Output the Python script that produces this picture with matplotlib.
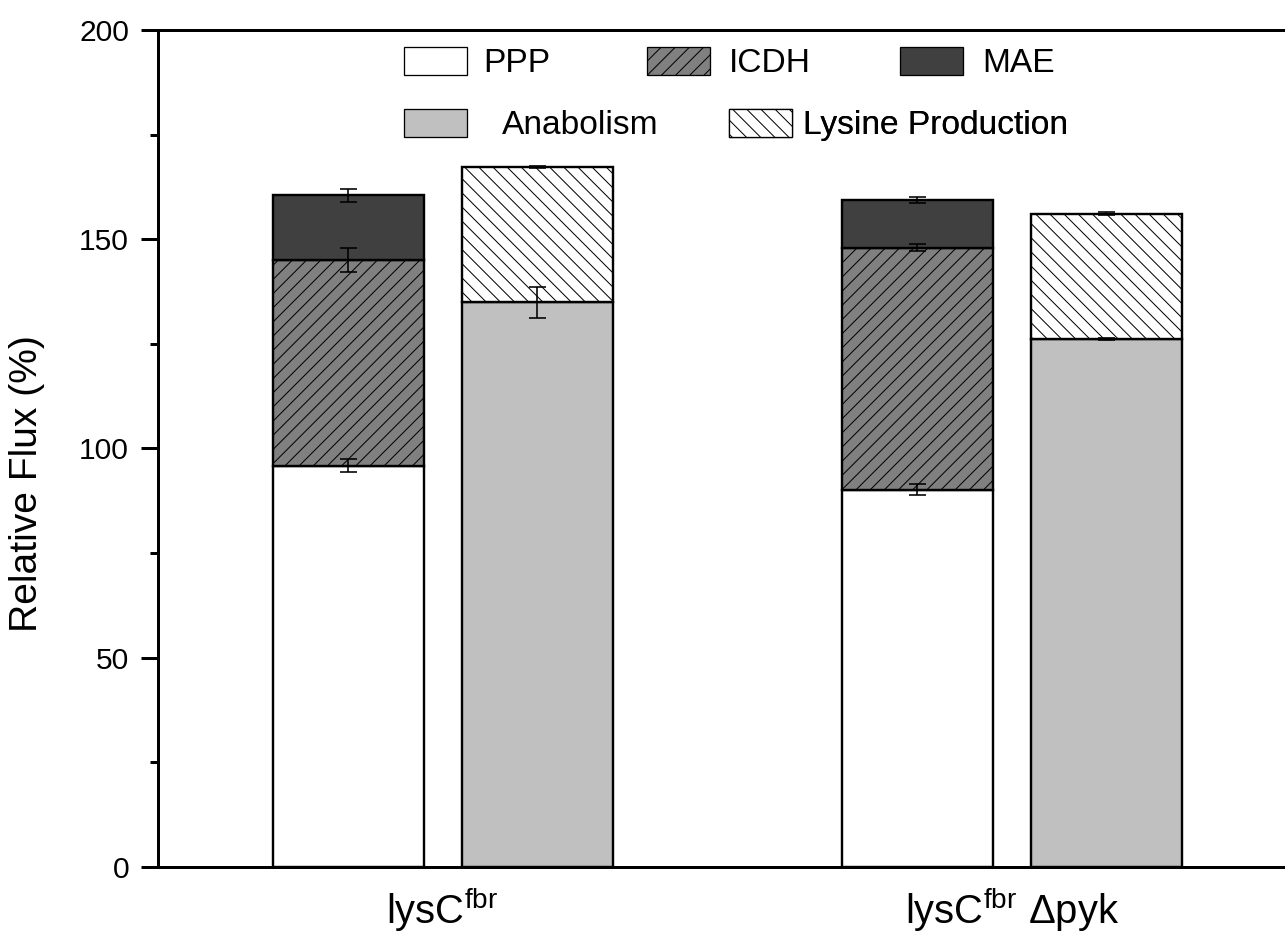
import matplotlib
matplotlib.use('Agg')
import matplotlib.pyplot as plt
import numpy as np
from matplotlib.patches import Patch
from matplotlib.ticker import MultipleLocator

# ---------------- data ----------------
categories = ['lysC$^{fbr}$', 'lysC$^{fbr}$ Δpyk']
ppp = np.array([95.9, 90.2])
ppp_err = np.array([1.6, 1.4])
icdh = np.array([49.1, 57.8])
icdh_err = np.array([2.9, 0.8])
mae = np.array([15.5, 11.4])
mae_err = np.array([1.5, 0.7])
anabolism = np.array([134.9, 126.2])
anabolism_err = np.array([3.7, 0.3])
lysine = np.array([32.4, 29.9])
lysine_err = np.array([0.3, 0.3])

# ---------------- style ----------------
DPI = 85
W, H = 1285, 940


def pt(px):
    return px * 72.0 / DPI


plt.rcParams['font.family'] = ['Liberation Sans', 'DejaVu Sans']
plt.rcParams['mathtext.fontset'] = 'custom'
plt.rcParams['mathtext.rm'] = 'Liberation Sans'
plt.rcParams['mathtext.it'] = 'Liberation Sans'
plt.rcParams['mathtext.default'] = 'regular'
plt.rcParams['hatch.linewidth'] = pt(1.0)
plt.rcParams['hatch.color'] = 'black'

fig = plt.figure(figsize=(W / DPI, H / DPI), dpi=DPI)
ax = fig.add_axes([158 / W, 1 - 867 / H, (1296.5 - 158) / W, (867 - 30) / H])

groups = np.arange(len(categories))
offset = 94.5 / 569
width = 151 / 569
xl = groups - offset
xr = groups + offset

edge_lw = pt(2.4)
ax.bar(xl, ppp, width, color='white', edgecolor='black', linewidth=edge_lw, zorder=2)
ax.bar(xl, icdh, width, bottom=ppp, color='#808080', edgecolor='black',
       hatch='//', linewidth=edge_lw, zorder=2)
ax.bar(xl, mae, width, bottom=ppp + icdh, color='#404040', edgecolor='black',
       linewidth=edge_lw, zorder=2)
ax.bar(xr, anabolism, width, color='#c0c0c0', edgecolor='black',
       linewidth=edge_lw, zorder=2)
ax.bar(xr, lysine, width, bottom=anabolism, color='white', edgecolor='black',
       hatch='\\\\', linewidth=edge_lw, zorder=2)

eb_kw = dict(fmt='none', ecolor='black', elinewidth=pt(1.6), capsize=pt(8.5),
             capthick=pt(1.6), zorder=4)
ax.errorbar(xl, ppp, yerr=ppp_err, **eb_kw)
ax.errorbar(xl, ppp + icdh, yerr=icdh_err, **eb_kw)
ax.errorbar(xl, ppp + icdh + mae, yerr=mae_err, **eb_kw)
ax.errorbar(xr, anabolism, yerr=anabolism_err, **eb_kw)
ax.errorbar(xr, anabolism + lysine, yerr=lysine_err, **eb_kw)

ax.set_xlim(-0.5, 1.5)
ax.set_ylim(0, 200)
ax.yaxis.set_major_locator(MultipleLocator(50))
ax.yaxis.set_minor_locator(MultipleLocator(25))
ax.set_xticks(groups)
ax.set_xticklabels(categories, fontsize=pt(40))
ax.tick_params(axis='x', length=0, pad=pt(19))
ax.tick_params(axis='y', which='major', length=pt(17), width=pt(3), pad=pt(12),
               labelsize=pt(30), direction='out')
ax.tick_params(axis='y', which='minor', length=pt(8), width=pt(3), direction='out')
for s in ax.spines.values():
    s.set_linewidth(pt(3))

ax.set_ylabel('Relative Flux (%)', fontsize=pt(39))
ax.yaxis.set_label_coords((45 - 158) / 1138.5, (867 - 484) / 837)

# ---------------- legend ----------------
FS = 33.5


def add_leg(handle, label, x, y, pad):
    leg = ax.legend([handle], [label], loc='center left',
                    bbox_to_anchor=(x / W, 1 - y / H), bbox_transform=fig.transFigure,
                    frameon=False, borderpad=0, borderaxespad=0,
                    handlelength=63 / FS, handleheight=31 / FS,
                    handletextpad=pad / FS, fontsize=pt(FS))
    ax.add_artist(leg)


hlw = pt(1.3)
add_leg(Patch(facecolor='white', edgecolor='black', linewidth=hlw), 'PPP', 404, 63, 16)
add_leg(Patch(facecolor='#808080', edgecolor='black', hatch='//', linewidth=hlw), 'ICDH', 647, 63, 19)
add_leg(Patch(facecolor='#404040', edgecolor='black', linewidth=hlw), 'MAE', 900, 63, 19)
add_leg(Patch(facecolor='#c0c0c0', edgecolor='black', linewidth=hlw), 'Anabolism', 404, 125, 35)
add_leg(Patch(facecolor='white', edgecolor='black', hatch='\\\\', linewidth=hlw), 'Lysine Production', 729, 125, 11)

fig.savefig('out.png', dpi=DPI)
